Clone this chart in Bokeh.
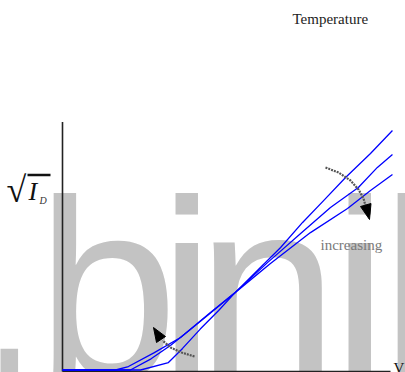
from bokeh.plotting import figure
from bokeh.models import Range1d
from bokeh.core.properties import value
from bokeh.embed import file_html
from bokeh.resources import INLINE

# ---- data (V in arbitrary units 0..10, sqrt(I_D) in arbitrary units) ----
v_low_temp = [0, 2.38, 3.23, 3.66, 4.20, 4.76, 5.27, 5.95, 6.65, 7.32, 7.96, 8.63, 9.39, 10.06]
i_low_temp = [0, 0, 0.30, 0.87, 1.65, 2.40, 3.13, 4.02, 4.94, 5.95, 6.83, 7.76, 8.73, 9.66]

v_mid_temp = [0, 2.07, 2.70, 3.29, 3.85, 4.42, 5.27, 6.25, 7.26, 8.17, 9.02, 9.60, 10.06]
i_mid_temp = [0, 0, 0.45, 0.99, 1.58, 2.20, 3.13, 4.33, 5.50, 6.55, 7.36, 8.17, 8.69]

v_high_temp = [0, 1.62, 2.01, 2.80, 3.60, 4.51, 5.27, 6.34, 7.56, 8.69, 9.39, 10.06]
i_high_temp = [0, 0, 0.14, 0.70, 1.31, 2.32, 3.13, 4.29, 5.54, 6.51, 7.24, 7.88]

axis_x_max = 10.0
axis_y_max = 10.0

watermark_chars = [".", "b", "i", "n", "i", "l"]
watermark_px = [-30, 36, 158, 196, 331, 380]

# ---- layout helpers (page pixel -> data units) ----
W, H = 405, 372
X0_PX, X_SCALE = 62.0, 32.8
Y0_PX, Y_SCALE = 369.5, 24.8
BASE_FIX = 0.34  # em offset of the svg alphabetic baseline


def dx(px):
    return (px - X0_PX) / X_SCALE


def dy(py):
    return (Y0_PX - py) / Y_SCALE


def base(py, size):
    return dy(py - BASE_FIX * size)


p = figure(width=W, height=H, output_backend="svg", toolbar_location=None,
           x_range=Range1d(dx(0), dx(W)), y_range=Range1d(dy(H), dy(0)),
           x_axis_type=None, y_axis_type=None, min_border=0,
           outline_line_color=None, background_fill_color="white",
           border_fill_color="white")

# watermark (behind everything)
p.text(x=[dx(v) for v in watermark_px], y=[base(374.6, 255)] * len(watermark_chars),
       text=watermark_chars, text_font=value("Liberation Sans"),
       text_font_size=value("255px"), text_color="#c3c3c3",
       text_baseline="alphabetic", text_align="left")

# axes
p.line(x=[0, 0], y=[dy(371), axis_y_max], line_color="#222222", line_width=1.6)
p.line(x=[0, axis_x_max], y=[dy(371), dy(371)], line_color="#222222", line_width=1.4)

# curves
for xs, ys in [(v_low_temp, i_low_temp), (v_mid_temp, i_mid_temp), (v_high_temp, i_high_temp)]:
    p.line(x=xs, y=ys, line_color="#0000ff", line_width=1.3)

# arrows (curved, dashed)
up_path = [(325, 167), (338, 172), (350, 180), (358, 189), (363, 198), (365, 205)]
p.line(x=[dx(a) for a, b in up_path], y=[dy(b) for a, b in up_path],
       line_color="#555555", line_width=2.2, line_dash="2 1")
p.patch(x=[dx(369), dx(370.5), dx(360)], y=[dy(219), dy(203), dy(206)],
        fill_color="black", line_color="black")

lo_path = [(194, 356), (181, 352), (170, 347), (162, 340)]
p.line(x=[dx(a) for a, b in lo_path], y=[dy(b) for a, b in lo_path],
       line_color="#555555", line_width=2.2, line_dash="2 1")
p.patch(x=[dx(153), dx(165), dx(156)], y=[dy(327), dy(336), dy(342)],
        fill_color="black", line_color="black")

# texts
p.text(x=[dx(292)], y=[base(23.3, 15)], text=["Temperature"],
       text_font=value("Liberation Serif"), text_font_size=value("15px"),
       text_color="#222222", text_baseline="alphabetic", text_align="left")
p.text(x=[dx(320)], y=[base(250, 15)], text=["increasing"],
       text_font=value("Liberation Serif"), text_font_size=value("15px"),
       text_color="#7a7a7a", text_baseline="alphabetic", text_align="left")
p.text(x=[dx(393)], y=[base(373, 15)], text=["V"],
       text_font=value("Liberation Serif"), text_font_size=value("15px"),
       text_color="#111111", text_baseline="alphabetic", text_align="left")

# y label: sqrt(I_D)
p.text(x=[dx(6)], y=[base(202, 36)], text=["\u221a"],
       text_font=value("Liberation Serif"), text_font_size=value("36px"),
       text_color="#111111", text_baseline="alphabetic", text_align="left")
p.line(x=[dx(27), dx(50)], y=[dy(174.5), dy(174.5)], line_color="#111111", line_width=2.5)
p.text(x=[dx(28)], y=[base(200, 26)], text=["I"],
       text_font=value("Liberation Serif"), text_font_size=value("26px"),
       text_font_style="italic", text_color="#111111",
       text_baseline="alphabetic", text_align="left")
p.text(x=[dx(39)], y=[base(203, 10)], text=["D"],
       text_font=value("Liberation Serif"), text_font_size=value("10px"),
       text_font_style="italic", text_color="#333333",
       text_baseline="alphabetic", text_align="left")

open("out.html", "w").write(file_html(p, INLINE))
